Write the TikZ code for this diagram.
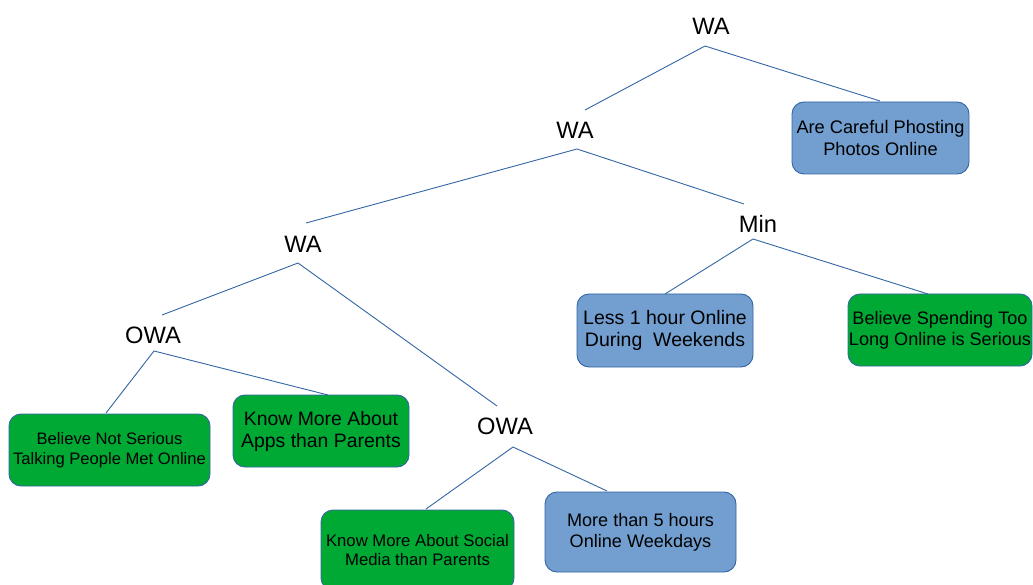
\documentclass[tikz,border=0pt]{standalone}
\usepackage{fontspec}
\setmainfont{Liberation Sans}
\definecolor{lnblue}{RGB}{52,101,164}
\definecolor{boxblue}{RGB}{114,159,207}
\definecolor{boxgreen}{RGB}{0,169,51}
\begin{document}
\begin{tikzpicture}[x=1pt,y=-1pt,
  lbl/.style={inner sep=0pt,font=\fontsize{23.7}{28}\selectfont},
  leaf/.style={draw=lnblue,line width=0.9pt,rounded corners=12pt,inner sep=0pt,align=center},
  bleaf/.style={leaf,fill=boxblue},
  gleaf/.style={leaf,fill=boxgreen},
  edge/.style={draw=lnblue,line width=0.9pt}]
\useasboundingbox (0,0) rectangle (1033,585);
% internal labels
\node[lbl] (wa0) at (711,26.5) {WA};
\node[lbl] (wa1) at (575,130) {WA};
\node[lbl] (wa2) at (303,244) {WA};
\node[lbl] (min) at (758,223.5) {Min};
\node[lbl] (owa1) at (153,335) {OWA};
\node[lbl] (owa2) at (505,426) {OWA};
% leaves
\node[bleaf,minimum width=177pt,minimum height=72pt,font=\fontsize{18.2}{22}\selectfont] (careful) at (880.5,138) {Are Careful Phosting\\Photos Online};
\node[bleaf,minimum width=176pt,minimum height=73pt,font=\fontsize{19.5}{22}\selectfont] (less) at (665,330.5) {Less 1 hour Online\\During\ \ Weekends};
\node[gleaf,minimum width=184pt,minimum height=72pt,font=\fontsize{18.1}{21}\selectfont] (spend) at (940,330) {Believe Spending Too\\Long Online is Serious};
\node[gleaf,minimum width=201pt,minimum height=72pt,font=\fontsize{16.6}{20}\selectfont] (notser) at (109.5,450) {Believe Not Serious\\Talking People Met Online};
\node[gleaf,minimum width=176pt,minimum height=72pt,font=\fontsize{19.4}{22}\selectfont] (apps) at (321,431) {Know More About\\Apps than Parents};
\node[gleaf,minimum width=193pt,minimum height=80pt,font=\fontsize{16.7}{18.5}\selectfont] (social) at (417.5,550) {Know More About Social\\Media than Parents};
\node[bleaf,minimum width=191pt,minimum height=80pt,font=\fontsize{18.1}{21}\selectfont] (more) at (640.5,532) {More than 5 hours\\Online Weekdays};
% connector points
\coordinate (f0) at (705,46);
\coordinate (t1) at (585,110);
\coordinate (tcar) at (880,101);
\coordinate (f1) at (577,149);
\coordinate (t2) at (306,223);
\coordinate (tmin) at (744,204);
\coordinate (fmin) at (753,239);
\coordinate (tless) at (665,294);
\coordinate (tspend) at (928,294);
\coordinate (f2) at (298,263);
\coordinate (to1) at (162,315);
\coordinate (to2) at (497,406);
\coordinate (fo1) at (154,351);
\coordinate (tnot) at (106,413);
\coordinate (tapps) at (328,395);
\coordinate (fo2) at (513,447);
\coordinate (tsoc) at (426,509);
\coordinate (tmore) at (607,491);
% connectors
\draw[edge] (t1) -- (f0) -- (tcar);
\draw[edge] (t2) -- (f1) -- (tmin);
\draw[edge] (tless) -- (fmin) -- (tspend);
\draw[edge] (to1) -- (f2) -- (to2);
\draw[edge] (tnot) -- (fo1) -- (tapps);
\draw[edge] (tsoc) -- (fo2) -- (tmore);
\end{tikzpicture}
\end{document}
